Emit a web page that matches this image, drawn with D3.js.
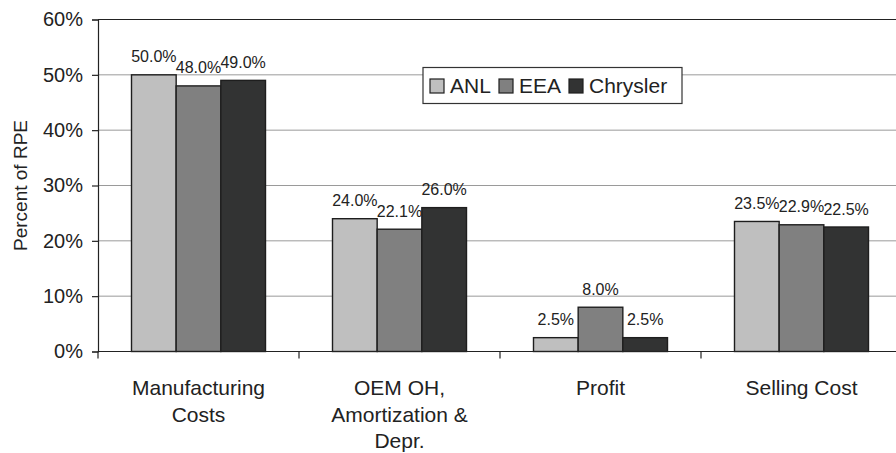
<!DOCTYPE html>
<html>
<head>
<meta charset="utf-8">
<script src="https://cdn.jsdelivr.net/npm/d3@7"></script>
<style>
  html, body { margin: 0; padding: 0; background: #fff; }
  svg { display: block; font-family: "Liberation Sans", Arial, sans-serif; }
</style>
</head>
<body>
<svg id="chart" width="896" height="453"></svg>
<script>
// Cost categories (x axis), one label line per array entry
const categories = [
  ["Manufacturing", "Costs"],
  ["OEM OH,", "Amortization &", "Depr."],
  ["Profit"],
  ["Selling Cost"]
];
const seriesNames = ["ANL", "EEA", "Chrysler"];
const seriesColors = ["#bfbfbf", "#808080", "#323333"];

// Share of retail price equivalent, percent
const anl      = [50.0, 24.0, 2.5, 23.5];
const eea      = [48.0, 22.1, 8.0, 22.9];
const chrysler = [49.0, 26.0, 2.5, 22.5];
const seriesValues = [anl, eea, chrysler];

const yTicks = [0, 10, 20, 30, 40, 50, 60];

const svg = d3.select("#chart");
const plotLeft = 98, plotRight = 902, plotTop = 19.5, plotBottom = 351.5;

const catKeys = categories.map(c => c.join(" "));
const x0 = d3.scaleBand().domain(catKeys).range([plotLeft, plotRight]).padding(0);
const bw = x0.bandwidth();
// gap between groups is 150% of one bar width
const barW = bw / 4.5;
const x1 = d3.scaleBand().domain(seriesNames)
  .range([barW * 0.75, bw - barW * 0.75]).padding(0);
const y = d3.scaleLinear().domain([0, 60]).range([plotBottom, plotTop]);

// gridlines
svg.append("g")
  .selectAll("line")
  .data(yTicks.filter(t => t > 0 && t < 60))
  .join("line")
  .attr("x1", plotLeft).attr("x2", plotRight)
  .attr("y1", d => y(d)).attr("y2", d => y(d))
  .attr("stroke", "#9a9a9a").attr("stroke-width", 1);

// top border of plot area
svg.append("line")
  .attr("x1", plotLeft).attr("x2", plotRight)
  .attr("y1", y(60)).attr("y2", y(60))
  .attr("stroke", "#222").attr("stroke-width", 1.2);

// bars
const groups = svg.append("g").selectAll("g")
  .data(catKeys)
  .join("g")
  .attr("transform", d => `translate(${x0(d)},0)`);

groups.selectAll("rect")
  .data((d, i) => seriesNames.map((s, j) => ({ s, j, v: seriesValues[j][i] })))
  .join("rect")
  .attr("x", d => x1(d.s))
  .attr("width", x1.bandwidth())
  .attr("y", d => y(d.v))
  .attr("height", d => y(0) - y(d.v))
  .attr("fill", d => seriesColors[d.j])
  .attr("stroke", "#1e1e1e")
  .attr("stroke-width", 1.4);

groups.selectAll("text.val")
  .data((d, i) => seriesNames.map((s, j) => ({ s, j, v: seriesValues[j][i] })))
  .join("text")
  .attr("class", "val")
  .attr("x", d => x1(d.s) + x1.bandwidth() / 2)
  .attr("y", d => y(d.v) - 12.5)
  .attr("text-anchor", "middle")
  .attr("font-size", 16)
  .attr("fill", "#222")
  .text(d => d.v.toFixed(1) + "%");

// y axis
const yAxis = d3.axisLeft(y).tickValues(yTicks)
  .tickFormat(d => d + "%").tickSize(6).tickPadding(9);
const gy = svg.append("g").attr("transform", `translate(${plotLeft},0)`).call(yAxis);
gy.select(".domain").attr("stroke", "#222").attr("stroke-width", 1.2);
gy.selectAll(".tick line").attr("stroke", "#222").attr("stroke-width", 1.2);
gy.selectAll(".tick text")
  .attr("font-size", 20).attr("fill", "#222")
  .attr("font-family", "Liberation Sans, Arial, sans-serif");

// x axis baseline and category separators
svg.append("line")
  .attr("x1", plotLeft).attr("x2", plotRight)
  .attr("y1", y(0)).attr("y2", y(0))
  .attr("stroke", "#222").attr("stroke-width", 1.2);
svg.append("g").selectAll("line")
  .data(catKeys)
  .join("line")
  .attr("x1", d => x0(d)).attr("x2", d => x0(d))
  .attr("y1", y(0)).attr("y2", y(0) + 7)
  .attr("stroke", "#222").attr("stroke-width", 1.2);

// category labels
const catLabels = svg.append("g").selectAll("text")
  .data(categories)
  .join("text")
  .attr("x", (d, i) => x0(catKeys[i]) + bw / 2)
  .attr("y", 395)
  .attr("text-anchor", "middle")
  .attr("font-size", 21)
  .attr("fill", "#222");
catLabels.selectAll("tspan")
  .data(d => d)
  .join("tspan")
  .attr("x", function () { return d3.select(this.parentNode).attr("x"); })
  .attr("dy", (d, i) => i === 0 ? 0 : 26.5)
  .text(d => d);

// y axis title
svg.append("text")
  .attr("transform", `translate(26.5,${(plotTop + plotBottom) / 2}) rotate(-90)`)
  .attr("text-anchor", "middle")
  .attr("font-size", 19)
  .attr("fill", "#222")
  .text("Percent of RPE");

// legend
const legend = svg.append("g");
legend.append("rect")
  .attr("x", 423).attr("y", 67.5).attr("width", 259).attr("height", 36)
  .attr("fill", "#fff").attr("stroke", "#333").attr("stroke-width", 1.2);
const legendX = [430, 499, 569];
const items = legend.selectAll("g.item")
  .data(seriesNames)
  .join("g")
  .attr("class", "item")
  .attr("transform", (d, i) => `translate(${legendX[i]},79)`);
items.append("rect")
  .attr("width", 14).attr("height", 14)
  .attr("fill", (d, i) => seriesColors[i])
  .attr("stroke", "#1e1e1e").attr("stroke-width", 1.2);
items.append("text")
  .attr("x", 20).attr("y", 14)
  .attr("font-size", 21)
  .attr("fill", "#222")
  .text(d => d);
</script>
</body>
</html>
